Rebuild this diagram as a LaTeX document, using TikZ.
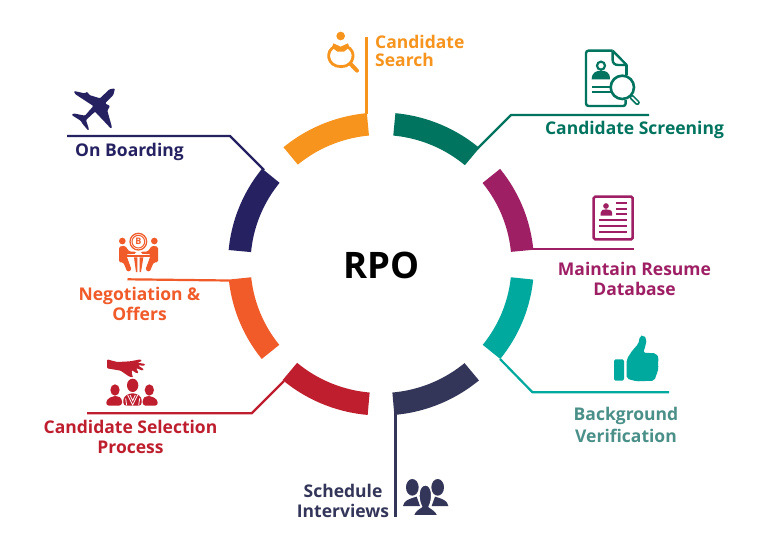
\documentclass[tikz,border=0pt]{standalone}
\usepackage{fontspec}
\setmainfont{Open Sans}[BoldFont={Open Sans Bold}]
\definecolor{corange}{HTML}{F7941D}
\definecolor{cteal}{HTML}{00745F}
\definecolor{cmag}{HTML}{9E1F63}
\definecolor{caqua}{HTML}{00A99D}
\definecolor{cbgtext}{HTML}{4A9088}
\definecolor{cslate}{HTML}{333559}
\definecolor{cred}{HTML}{BE1E2D}
\definecolor{cflame}{HTML}{F15A29}
\definecolor{cnavy}{HTML}{262262}
\newcommand{\seg}[3]{\fill[#1] plot[domain=#2:#3,samples=40,smooth] ({381+153*cos(\x)},{264-151.5*sin(\x)}) -- plot[domain=#3:#2,samples=40,smooth] ({381+130.5*cos(\x)},{264-129*sin(\x)}) -- cycle;}
\tikzset{
 lab/.style={font=\bfseries\fontsize{17.5}{20}\selectfont,align=center,inner sep=0pt},
 conn/.style={line width=2.2pt,line join=miter},
 zm/.style={x=.33333pt,y=-.33333pt}
}
\begin{document}
\begin{tikzpicture}[x=1pt,y=-1pt]
\useasboundingbox (0,0) rectangle (768,555);
\fill[white] (0,0) rectangle (768,555);
\seg{corange}{95.3}{129.6}
\seg{cteal}{50}{84.6}
\seg{cmag}{5.4}{38.9}
\seg{caqua}{-38.8}{-5.9}
\seg{cslate}{-85}{-50.2}
\seg{cred}{-130}{-95}
\seg{cflame}{185.9}{218.8}
\seg{cnavy}{141}{174.7}
% hub
\node[font=\bfseries\fontsize{36.5}{40}\selectfont,inner sep=0pt] (hub) at (381.5,265) {RPO};
% labels
\node[lab,text=corange,align=left,anchor=west] (lsearch) at (375,51) {Candidate\\[-2pt]Search};
\node[lab,text=cteal] (lscreen) at (634.5,130) {Candidate Screening};
\node[lab,text=cmag] (lresume) at (634.5,278.5) {Maintain Resume\\Database};
\node[lab,text=cbgtext,font=\bfseries\fontsize{17.5}{22}\selectfont] (lback) at (626,425) {Background\\Verification};
\node[lab,text=cslate] (lsched) at (343,501) {Schedule\\Interviews};
\node[lab,text=cred] (lsel) at (130.5,437) {Candidate Selection\\Process};
\node[lab,text=cflame] (lneg) at (139.5,304) {Negotiation \&\\Offers};
\node[lab,text=cnavy] (lboard) at (129.5,151.5) {On Boarding};
% connector points
\coordinate (a1) at (366.5,114); \coordinate (a2) at (366.5,37);
\coordinate (b1) at (477,149); \coordinate (b2) at (511,115); \coordinate (b3) at (649,115);
\coordinate (c1) at (533,249.3); \coordinate (c2) at (634,249.3);
\coordinate (d1) at (500,359); \coordinate (d2) at (532.5,392.3); \coordinate (d3) at (669,392.3);
\coordinate (e1) at (395.5,414); \coordinate (e2) at (395.5,517);
\coordinate (f1) at (284,381); \coordinate (f2) at (251.7,413.3); \coordinate (f3) at (87,413.3);
\coordinate (g1) at (229,280.5); \coordinate (g2) at (127.5,279.3);
\coordinate (h1) at (264,170); \coordinate (h2) at (230,136); \coordinate (h3) at (67,136);
\draw[conn,corange] (a1) -- (a2);
\draw[conn,cteal] (b1) -- (b2) -- (b3);
\draw[conn,cmag] (c1) -- (c2);
\draw[conn,caqua] (d1) -- (d2) -- (d3);
\draw[conn,cslate] (e1) -- (e2);
\draw[conn,cred] (f1) -- (f2) -- (f3);
\draw[conn,cflame] (g1) -- (g2);
\draw[conn,cnavy] (h1) -- (h2) -- (h3);
% search icon
\begin{scope}[shift={(270,0)},zm]
\fill[corange] (212,108) circle (13);
\draw[corange,line width=2.8pt] (195,140) .. controls (165,150) and (170,200) .. (213,200) .. controls (255,200) and (260,150) .. (230,140);
\fill[corange] (190,130) -- (212,140) -- (234,130) -- (238,142) -- (222,155) -- (202,155) -- (186,142) -- cycle;
\draw[corange,line width=4pt,line cap=round] (242,192) -- (261,212);
\end{scope}
% screening icon
\begin{scope}[shift={(460,30)},zm]
\draw[cteal,line width=2.4pt,rounded corners=2.5pt] (458,62) -- (378,62) -- (378,228) -- (497,228) -- (497,210);
\draw[cteal,line width=2.4pt,line join=round] (458,62) -- (458,90) .. controls (458,100) and (465,105) .. (475,105) -- (500,105) -- (458,62);
\draw[cteal,line width=2.4pt] (500,105) -- (500,135);
\draw[cteal,line width=2.2pt] (423,107) circle (12);
\fill[cteal] (395,148) .. controls (395,125) and (412,122) .. (423,122) .. controls (436,122) and (450,125) .. (450,148) -- cycle;
\draw[cteal,line width=2.2pt] (396,170) -- (452,170) (396,187) -- (452,187);
\draw[cteal,line width=2.6pt,fill=white] (487,172) circle (35);
\draw[cteal,line width=5pt,line cap=round] (516,202) -- (532,218);
\draw[white,line width=1.6pt,line cap=round] (516,202) -- (532,218);
\end{scope}
% resume icon
\begin{scope}[shift={(460,30)},zm]
\draw[cmag,line width=2.5pt,rounded corners=1.5pt] (401,500) rectangle (518,628);
\fill[cmag] (438,528) circle (8.5);
\fill[cmag] (422,557) -- (422,548) .. controls (422,540) and (430,538) .. (438,538) .. controls (446,538) and (456,540) .. (456,548) -- (456,557) -- cycle;
\draw[cmag,line width=2pt] (468,520) -- (500,520) (468,537) -- (500,537) (468,553) -- (500,553) (418,571) -- (500,571) (418,589) -- (500,589) (418,607) -- (500,607);
\end{scope}
% thumb icon
\begin{scope}[shift={(470,270)},zm]
\fill[caqua,rounded corners=1.5pt] (432,268) rectangle (462,332);
\fill[caqua,rounded corners=2pt] (470,268) -- (488,240) -- (505,222) -- (510,198) -- (520,195) -- (530,208) -- (527,225) -- (520,248) -- (558,250) -- (567,265) -- (563,280) -- (566,295) -- (560,312) -- (553,332) -- (500,334) -- (470,326) -- cycle;
\end{scope}
% people icon
\begin{scope}[shift={(280,350)},zm]
\fill[cslate] (397,412) ellipse (19 and 25);
\fill[cslate] (473,412) ellipse (19 and 25);
\fill[cslate] (369,468) .. controls (372,452) and (385,447) .. (410,440) -- (420,468) -- cycle;
\fill[cslate] (505,468) .. controls (502,452) and (490,447) .. (465,440) -- (455,468) -- cycle;
\fill[cslate,draw=white,line width=1.2pt] (400,497) .. controls (404,482) and (415,477) .. (425,470) .. controls (412,445) and (415,405) .. (436,405) .. controls (457,405) and (460,445) .. (447,470) .. controls (456,477) and (468,482) .. (474,497) -- cycle;
\end{scope}
% selection icon
\begin{scope}[shift={(30,340)},zm]
\fill[cred,rounded corners=1pt] (231,58) -- (262,66) -- (300,64) -- (332,58) -- (336,63) -- (322,68) -- (346,72) -- (344,77) -- (324,76) -- (342,88) -- (338,92) -- (318,84) -- (326,99) -- (320,100) -- (305,90) -- (306,105) -- (310,112) -- (298,110) -- (272,92) -- (231,85) -- cycle;
\fill[cred] (255,150) ellipse (14 and 17);
\fill[cred] (358,150) ellipse (14 and 17);
\fill[cred,rounded corners=3pt] (228,197) -- (230,178) -- (250,168) -- (262,168) -- (276,175) -- (276,197) -- cycle;
\fill[cred,rounded corners=3pt] (384,197) -- (382,178) -- (362,168) -- (350,168) -- (338,175) -- (338,197) -- cycle;
\fill[cred] (308,136) ellipse (17 and 20);
\fill[cred,rounded corners=3pt] (280,197) -- (280,172) -- (298,160) -- (318,160) -- (335,172) -- (335,197) -- cycle;
\draw[white,line width=.8pt] (293,165) -- (308,195) -- (323,165) (300,165) -- (308,182) -- (316,165) (287,175) -- (290,196) (329,175) -- (326,196);
\end{scope}
% negotiation icon
\begin{scope}[shift={(50,70)},zm]
\draw[cflame,line width=1.3pt] (265,515) circle (25);
\draw[cflame,line width=1pt] (265,515) circle (19);
\node[font=\bfseries\fontsize{9}{9}\selectfont,text=cflame,inner sep=0pt] (coin) at (265,515) {B};
\fill[cflame] (217,513) circle (10);
\fill[cflame] (313,513) circle (10);
\fill[cflame,rounded corners=1.5pt] (207,530) -- (225,527) -- (238,545) -- (258,545) -- (258,551) -- (228,553) -- (245,600) -- (232,606) -- (220,577) -- (207,577) -- cycle;
\fill[cflame,rounded corners=1.5pt] (324,530) -- (306,527) -- (293,545) -- (273,545) -- (273,551) -- (303,553) -- (286,600) -- (299,606) -- (311,577) -- (324,577) -- cycle;
\fill[cflame] (222,555) rectangle (310,562);
\fill[cflame] (252,562) -- (262,562) -- (262,606) -- (258,606) -- cycle;
\fill[cflame] (280,562) -- (269,562) -- (269,606) -- (273,606) -- cycle;
\end{scope}
% plane icon
\begin{scope}[shift={(50,70)},zm]
\fill[cnavy,rounded corners=1pt] (195,55) -- (178,58) -- (150,85) -- (118,75) -- (112,65) -- (104,70) -- (72,63) -- (75,72) -- (130,108) -- (105,137) -- (70,130) -- (65,135) -- (92,152) -- (98,162) -- (115,182) -- (117,178) -- (108,150) -- (135,125) -- (168,160) -- (183,176) -- (186,172) -- (172,122) -- (180,108) -- (165,100) -- (190,75) -- cycle;
\end{scope}
\end{tikzpicture}
\end{document}
